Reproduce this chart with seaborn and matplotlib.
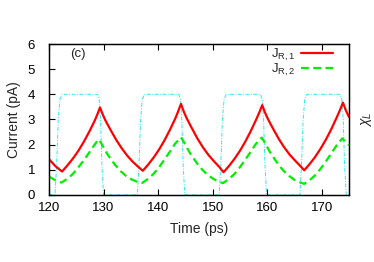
import numpy as np
import pandas as pd
import matplotlib
matplotlib.use("Agg")
import matplotlib.pyplot as plt
import seaborn as sns

# ---- data ----
t_j1 = [120.0, 121.2, 122.4, 123.4, 124.4, 125.4, 126.4, 127.4, 128.4, 128.9, 129.35,
        129.85, 130.35, 130.85, 131.35, 132.35, 133.35, 134.35, 135.35, 136.35, 137.2,
        138.2, 139.2, 140.2, 141.2, 142.2, 143.2, 143.7, 144.2,
        144.7, 145.2, 145.7, 146.2, 147.2, 148.2, 149.2, 150.2, 151.2, 152.0,
        153.0, 154.0, 155.0, 156.0, 157.0, 158.0, 158.6, 159.1,
        159.6, 160.1, 160.6, 161.1, 162.1, 163.1, 164.1, 165.1, 166.0, 166.8,
        167.8, 168.8, 169.8, 170.8, 171.8, 172.8, 173.4, 173.9,
        174.4, 175.0]
j_r1 = [1.42, 1.14, 0.93, 1.18, 1.45, 1.76, 2.12, 2.52, 2.96, 3.22, 3.48,
        3.20, 2.96, 2.76, 2.56, 2.18, 1.85, 1.56, 1.32, 1.12, 0.96,
        1.21, 1.49, 1.81, 2.18, 2.60, 3.06, 3.33, 3.62,
        3.32, 3.07, 2.86, 2.65, 2.25, 1.90, 1.60, 1.35, 1.12, 0.90,
        1.15, 1.43, 1.75, 2.12, 2.54, 3.00, 3.30, 3.57,
        3.28, 3.04, 2.83, 2.63, 2.24, 1.90, 1.61, 1.37, 1.17, 0.98,
        1.23, 1.51, 1.84, 2.21, 2.63, 3.10, 3.40, 3.67,
        3.38, 3.10]

t_j2 = [120.0, 121.2, 122.3, 123.3, 124.3, 125.3, 126.3, 127.3, 128.3, 129.1,
        129.6, 130.1, 130.6, 131.1, 132.1, 133.1, 134.1, 135.1, 136.1, 137.1,
        138.1, 139.1, 140.1, 141.1, 142.1, 143.1, 144.2,
        144.7, 145.2, 145.7, 146.2, 147.2, 148.2, 149.2, 150.2, 151.1, 151.9,
        152.9, 153.9, 154.9, 155.9, 156.9, 157.9, 159.0,
        159.5, 160.0, 160.5, 161.0, 162.0, 163.0, 164.0, 165.0, 166.0, 166.8,
        167.8, 168.8, 169.8, 170.8, 171.8, 172.8, 173.8,
        174.4, 175.0]
j_r2 = [0.73, 0.58, 0.49, 0.64, 0.82, 1.07, 1.36, 1.66, 1.98, 2.21,
        2.05, 1.85, 1.66, 1.50, 1.20, 0.95, 0.76, 0.62, 0.53, 0.48,
        0.63, 0.82, 1.08, 1.38, 1.70, 2.03, 2.29,
        2.12, 1.92, 1.72, 1.55, 1.24, 0.98, 0.78, 0.63, 0.53, 0.47,
        0.62, 0.81, 1.07, 1.37, 1.69, 2.02, 2.28,
        2.11, 1.91, 1.71, 1.54, 1.23, 0.96, 0.76, 0.60, 0.50, 0.44,
        0.59, 0.78, 1.04, 1.34, 1.66, 1.99, 2.25,
        2.08, 1.98]

t_chi = [120.0, 121.1, 121.4, 121.7, 122.0, 122.4, 128.9, 129.2, 129.45, 129.7, 130.0,
         136.2, 136.5, 136.8, 137.1, 137.5, 143.8, 144.1, 144.35, 144.6, 144.9,
         151.2, 151.5, 151.8, 152.1, 152.5, 158.8, 159.1, 159.35, 159.6, 159.9,
         166.0, 166.3, 166.6, 166.9, 167.3, 173.4, 173.7, 173.95, 174.2, 174.5, 175.0]
chi_l = [0.0, 0.0, 0.3, 0.75, 0.95, 1.0, 1.0, 0.95, 0.75, 0.3, 0.0,
         0.0, 0.3, 0.75, 0.95, 1.0, 1.0, 0.95, 0.75, 0.3, 0.0,
         0.0, 0.3, 0.75, 0.95, 1.0, 1.0, 0.95, 0.75, 0.3, 0.0,
         0.0, 0.3, 0.75, 0.95, 1.0, 1.0, 0.95, 0.75, 0.3, 0.0, 0.0]

x_ticks = [120, 130, 140, 150, 160, 170]
y_ticks = [0, 1, 2, 3, 4, 5, 6]

sns.set_theme(style="ticks")
plt.rcParams['font.family'] = ['Liberation Sans', 'DejaVu Sans']
plt.rcParams['mathtext.fontset'] = 'custom'
plt.rcParams['mathtext.rm'] = 'Liberation Sans'
plt.rcParams['mathtext.it'] = 'Liberation Sans:italic'

FS_TICK = 9.5
FS_LAB = 10
FS_LEG = 9.5

fig = plt.figure(figsize=(3.74, 2.62), dpi=100)
ax = fig.add_axes([0.131, 0.256, 0.802, 0.576])
ax2 = ax.twinx()

df1 = pd.DataFrame({"t": t_j1, "v": j_r1})
df2 = pd.DataFrame({"t": t_j2, "v": j_r2})
dfc = pd.DataFrame({"t": t_chi, "v": chi_l})

sns.lineplot(data=dfc, x="t", y="v", ax=ax2, color="#33e6f0", lw=0.7,
             linestyle=(0, (4, 1.5, 1, 1.5)), legend=False)
sns.lineplot(data=df1, x="t", y="v", ax=ax, color="#ff0000", lw=1.6,
             label=r"J$_{\mathrm{R,1}}$")
sns.lineplot(data=df2, x="t", y="v", ax=ax, color="#00ee00", lw=1.6,
             linestyle=(0, (3.5, 2)), label=r"J$_{\mathrm{R,2}}$")

ax.set_zorder(ax2.get_zorder() + 1)
ax.patch.set_visible(False)

ax.set_xlim(120, 175)
ax.set_ylim(0, 6)
ax2.set_ylim(0, 1.5)
ax2.set_yticks([])
ax2.set_ylabel("")

ax.set_xticks(x_ticks)
ax.set_yticks(y_ticks)
ax.tick_params(axis="both", direction="in", length=4, width=0.8,
               labelsize=FS_TICK, colors="black", top=True, right=False)
ax.tick_params(axis="x", pad=5)
ax.tick_params(axis="y", pad=10)
ax.set_xlabel("Time (ps)", fontsize=FS_LAB, labelpad=6)
ax.set_ylabel("Current (pA)", fontsize=FS_LAB, labelpad=5)

for a in (ax, ax2):
    for s in a.spines.values():
        s.set_color("black")
        s.set_linewidth(0.9)
        s.set_visible(True)

ax.text(125.3, 5.6, "(c)", fontsize=FS_TICK, ha="center", va="center")
fig.text(366 / 374, 1 - 119.5 / 262, r"$\chi_L$", fontsize=FS_LAB,
         rotation=90, ha="center", va="center")

leg = ax.legend(loc="upper right", frameon=False, markerfirst=False,
                fontsize=FS_LEG, handlelength=2.4, handletextpad=0.45,
                labelspacing=-0.05, borderaxespad=0.0, borderpad=0.2,
                bbox_to_anchor=(0.955, 1.0))

fig.savefig("out.png", dpi=100)
